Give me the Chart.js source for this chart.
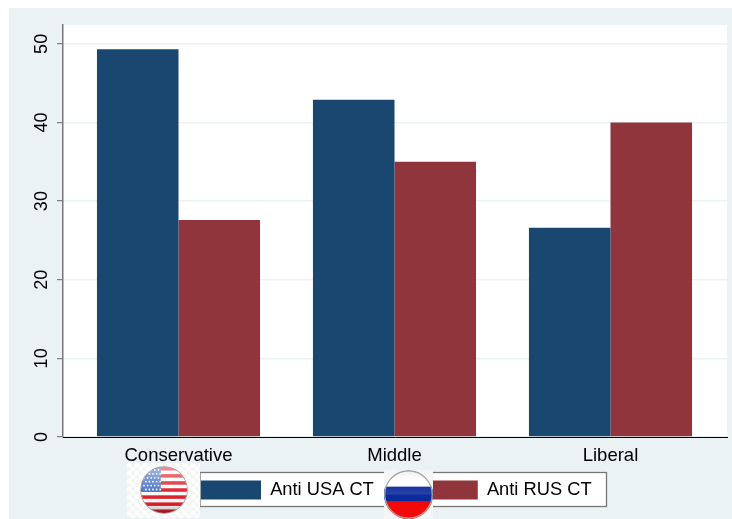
<!DOCTYPE html>
<html>
<head>
<meta charset="utf-8">
<style>html,body{margin:0;padding:0;background:#fff}canvas{display:block}</style>
<script src="https://cdn.jsdelivr.net/npm/chart.js@4"></script>
</head>
<body>
<canvas id="c" width="732" height="519"></canvas>
<script>
const categories = ["Conservative", "Middle", "Liberal"];
const antiUSA = [49.3, 42.9, 26.6];
const antiRUS = [27.6, 35.0, 40.0];
const seriesNames = ["Anti USA CT", "Anti RUS CT"];
const yTicks = [0, 10, 20, 30, 40, 50];

const FONT = '"Liberation Sans", Arial, sans-serif';
const PANEL = "#eaf2f3";

function drawUSA(ctx, cx, cy, r) {
  ctx.save();
  ctx.save();
  ctx.beginPath(); ctx.rect(127, 463, 73, 55); ctx.clip();
  ctx.fillStyle = "#f3f4f4";
  ctx.fillRect(127, 463, 73, 55);
  ctx.fillStyle = "#ffffff";
  for (let i = 0; i < 19; i++) for (let j = 0; j < 14; j++) {
    if ((i + j) % 2 === 0) ctx.fillRect(127 + i * 4, 463 + j * 4, 4, 4);
  }
  ctx.restore();
  ctx.beginPath(); ctx.arc(cx, cy, r, 0, Math.PI * 2);
  ctx.strokeStyle = "#999"; ctx.lineWidth = 1.5; ctx.stroke(); ctx.clip();
  ctx.fillStyle = "#fff"; ctx.fillRect(cx - r, cy - r, 2 * r, 2 * r);
  const h = 2 * r / 13;
  ctx.fillStyle = "#e0202c";
  for (let i = 0; i < 13; i += 2) ctx.fillRect(cx - r, cy - r + i * h, 2 * r, h);
  ctx.fillStyle = "#4a74c4";
  ctx.fillRect(cx - r, cy - r, r * 0.86, h * 7);
  ctx.fillStyle = "#fff";
  for (let y = 0; y < 6; y++) for (let x = 0; x < 5; x++) {
    ctx.beginPath();
    ctx.arc(cx - r + 3 + x * 3.6 + (y % 2) * 1.8, cy - r + 3 + y * 3.9, 0.9, 0, Math.PI * 2);
    ctx.fill();
  }
  let g = ctx.createLinearGradient(0, cy - r, 0, cy + r);
  g.addColorStop(0, "rgba(255,255,255,0.5)");
  g.addColorStop(0.5, "rgba(255,255,255,0.05)");
  g.addColorStop(0.8, "rgba(0,0,0,0.03)");
  g.addColorStop(1, "rgba(0,0,0,0.3)");
  ctx.fillStyle = g; ctx.fillRect(cx - r, cy - r, 2 * r, 2 * r);
  ctx.restore();
}

function drawRussia(ctx, cx, cy, r) {
  ctx.save();
  ctx.fillStyle = "#f4f5f5";
  ctx.fillRect(cx - r, cy - r, 2 * r, 2 * r);
  ctx.beginPath(); ctx.arc(cx, cy, r, 0, Math.PI * 2); ctx.clip();
  const t = cy - r, h = 2 * r;
  ctx.fillStyle = "#ffffff"; ctx.fillRect(cx - r, t, h, h * 0.34);
  ctx.fillStyle = "#0b2a9c"; ctx.fillRect(cx - r, t + h * 0.34, h, h * 0.31);
  ctx.fillStyle = "#f20a0a"; ctx.fillRect(cx - r, t + h * 0.65, h, h * 0.35);
  let g = ctx.createLinearGradient(0, t, 0, t + h * 0.5);
  g.addColorStop(0, "rgba(190,190,190,0.35)");
  g.addColorStop(0.5, "rgba(255,255,255,0)");
  g.addColorStop(1, "rgba(255,255,255,0.12)");
  ctx.fillStyle = g; ctx.fillRect(cx - r, t, h, h * 0.5);
  ctx.beginPath(); ctx.arc(cx, cy, r - 0.7, 0, Math.PI * 2);
  ctx.strokeStyle = "#a5a5a5"; ctx.lineWidth = 1.4; ctx.stroke();
  ctx.restore();
}

const backdrop = {
  id: "backdrop",
  beforeLayout(chart) {
    const l = chart.legend;
    if (l && !l._patched) {
      const f = l.fit;
      l.fit = function () { f.call(this); this.height = 0; };
      l._patched = true;
    }
  },
  afterLayout(chart) {
    const l = chart.legend, p = l.options.labels.padding;
    l.left = 201 - p; l.right = 732;
    l.top = 480.5 - p; l.bottom = 519;
    l.width = l.right - l.left; l.height = l.bottom - l.top;
  },
  beforeDraw(chart) {
    const { ctx, chartArea: a } = chart;
    ctx.save();
    ctx.fillStyle = "#fff"; ctx.fillRect(0, 0, 732, 519);
    ctx.fillStyle = PANEL; ctx.fillRect(9, 8, 723, 511);
    ctx.fillStyle = "#fff"; ctx.fillRect(a.left, a.top, a.right - a.left, a.bottom - a.top);
    ctx.fillStyle = "#fff"; ctx.fillRect(200, 472.5, 406.5, 34);
    ctx.strokeStyle = "#777"; ctx.lineWidth = 1.3;
    ctx.strokeRect(200, 472.5, 406.5, 34);
    ctx.restore();
  },
  afterDraw(chart) {
    const ctx = chart.ctx;
    drawUSA(ctx, 164, 490, 23);
    drawRussia(ctx, 408.5, 494.5, 24.5);
  }
};

new Chart(document.getElementById("c"), {
  type: "bar",
  plugins: [backdrop],
  data: {
    datasets: [
      { label: seriesNames[0], data: antiUSA.map((v, i) => ({ x: i, y: v })), backgroundColor: "#1a476f" },
      { label: seriesNames[1], data: antiRUS.map((v, i) => ({ x: i, y: v })), backgroundColor: "#90353b" }
    ]
  },
  options: {
    responsive: false,
    animation: false,
    devicePixelRatio: 1,
    layout: { padding: { top: 25, right: 5, left: 0, bottom: 0 } },
    datasets: { bar: { barPercentage: 1, categoryPercentage: 0.755 } },
    plugins: {
      tooltip: { enabled: false },
      legend: {
        position: "bottom",
        align: "start",
        labels: {
          boxWidth: 60, boxHeight: 19, padding: 44,
          color: "#000",
          font: { family: FONT, size: 18.3 }
        }
      }
    },
    scales: {
      x: {
        type: "linear",
        offset: false,
        min: -0.5347, max: 2.5394,
        afterFit(s) { s.height = 82; },
        grid: { display: false, offset: false },
        border: { color: "#000", width: 1 },
        ticks: {
          stepSize: 1, includeBounds: false, autoSkip: false, maxRotation: 0, padding: 0,
          color: "#000", font: { family: FONT, size: 18.5 },
          callback: v => categories[v] ?? ""
        }
      },
      y: {
        min: 0, max: 52.4,
        afterFit(s) { s.width = 63; },
        afterBuildTicks(s) { s.ticks = yTicks.map(v => ({ value: v })); },
        grid: { color: PANEL, lineWidth: 1.4, tickColor: "#666", tickLength: 6, tickWidth: 1 },
        border: { color: "#777", width: 1.5 },
        ticks: {
          minRotation: 90, maxRotation: 90, padding: 5, crossAlign: "center",
          color: "#000", font: { family: FONT, size: 18 }
        }
      }
    }
  }
});
</script>
</body>
</html>
